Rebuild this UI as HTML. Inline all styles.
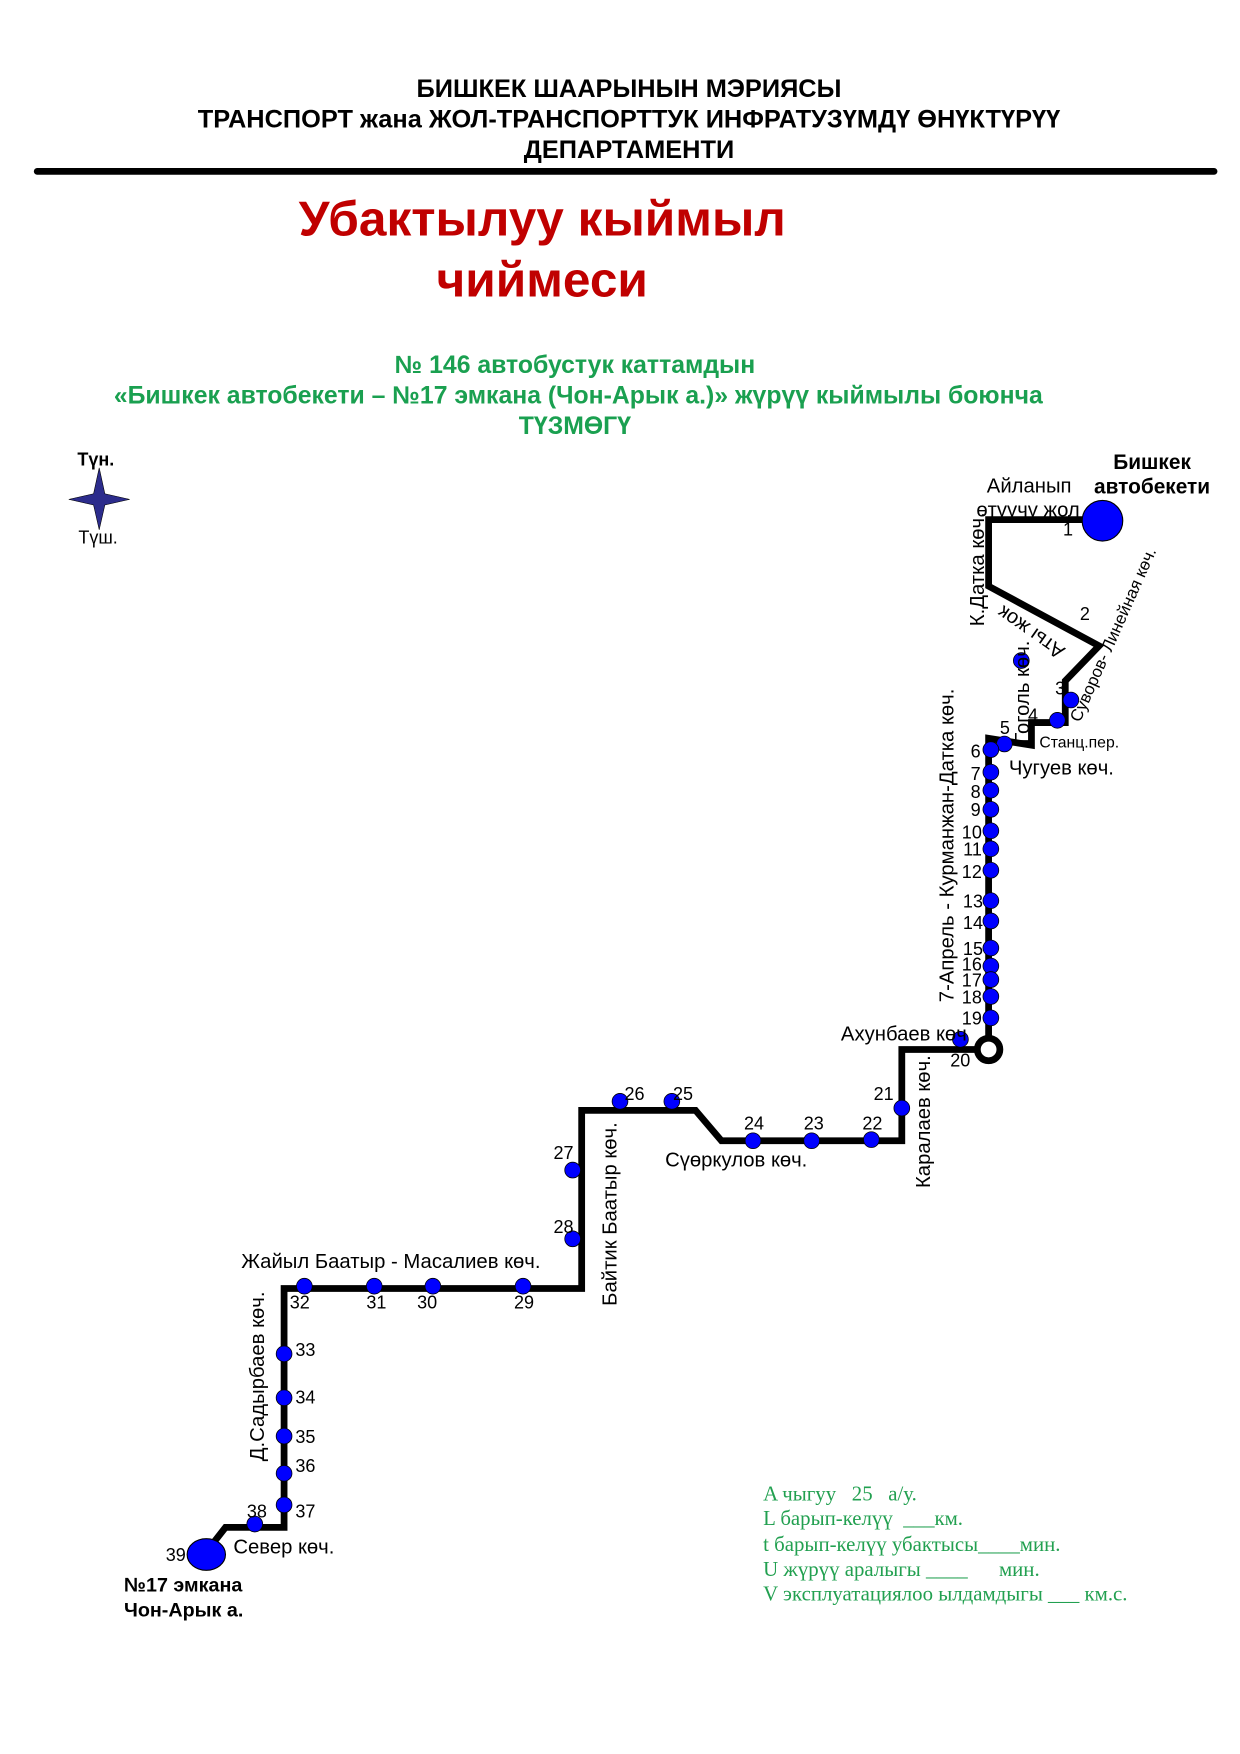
<!DOCTYPE html>
<html><head><meta charset="utf-8"><style>
html,body{margin:0;padding:0;background:#fff}
svg{display:block}
text{font-family:"Liberation Sans",sans-serif}
.n{font-size:16px;fill:#000}
.s{font-size:18px;fill:#000}
.g{font-family:"Liberation Serif",serif;font-size:18.5px;fill:#22a050}
</style></head><body>
<svg width="1240" height="1754" viewBox="0 0 1100 1556" xmlns="http://www.w3.org/2000/svg">
<g font-weight="bold" font-size="22.5" text-anchor="middle">
<text x="558" y="86">БИШКЕК ШААРЫНЫН МЭРИЯСЫ</text>
<text x="558" y="113">ТРАНСПОРТ жана ЖОЛ-ТРАНСПОРТТУК ИНФРАТУЗҮМДҮ ӨНҮКТҮРҮҮ</text>
<text x="558" y="140">ДЕПАРТАМЕНТИ</text>
</g>
<line x1="33" y1="152" x2="1077" y2="152" stroke="#000" stroke-width="6" stroke-linecap="round"/>
<g font-weight="bold" font-size="44" fill="#c00000" text-anchor="middle">
<text x="481" y="209">Убактылуу кыймыл</text>
<text x="481" y="263">чиймеси</text>
</g>
<g font-weight="bold" font-size="22" fill="#1aa050" text-anchor="middle">
<text x="510" y="331">№ 146 автобустук каттамдын</text>
<text x="513" y="358">«Бишкек автобекети –  №17 эмкана (Чон-Арык а.)» жүрүү кыймылы боюнча</text>
<text x="510" y="385">ТҮЗМӨГҮ</text>
</g>
<text x="85" y="413" font-weight="bold" font-size="16" text-anchor="middle">Түн.</text>
<polygon points="88,415 93,438 115,443 93,448 88,470 83,448 61,443 83,438" fill="#2c2c8c" stroke="#000" stroke-width="0.5"/>
<text x="87" y="482" font-size="16" text-anchor="middle">Түш.</text>

<g fill="none" stroke="#000" stroke-width="6" stroke-linejoin="miter">
<polyline points="962,461 877,461 877,520 975,573 945,604 945,641 915,641 915,661 877,655 877,930"/>
<polyline points="866,931 800,931 800,1012 640,1012 617,985 516,985 516,1143 252,1143 252,1355 200,1355 182,1378"/>
</g>
<circle cx="877" cy="931" r="10" fill="#fff" stroke="#000" stroke-width="6"/>
<circle cx="978" cy="462" r="18" fill="#0000ff" stroke="#000" stroke-width="1"/>
<ellipse cx="183" cy="1379" rx="17" ry="14" fill="#0000ff" stroke="#000" stroke-width="1"/>
<g fill="#0000ff" stroke="#000" stroke-width="0.7">
<circle cx="950" cy="621" r="7"/><circle cx="938" cy="639" r="7"/><circle cx="891" cy="660" r="7"/><circle cx="906" cy="586" r="7"/>
<circle cx="879" cy="665" r="7"/><circle cx="879" cy="685" r="7"/><circle cx="879" cy="701" r="7"/><circle cx="879" cy="718" r="7"/>
<circle cx="879" cy="737" r="7"/><circle cx="879" cy="753" r="7"/><circle cx="879" cy="772" r="7"/><circle cx="879" cy="799" r="7"/>
<circle cx="879" cy="817" r="7"/><circle cx="879" cy="841" r="7"/><circle cx="879" cy="857" r="7"/><circle cx="879" cy="869" r="7"/>
<circle cx="879" cy="884" r="7"/><circle cx="879" cy="903" r="7"/><circle cx="852" cy="922" r="7"/>
<circle cx="800" cy="983" r="7"/><circle cx="773" cy="1011" r="7"/><circle cx="720" cy="1012" r="7"/><circle cx="668" cy="1012" r="7"/>
<circle cx="596" cy="977" r="7"/><circle cx="550" cy="977" r="7"/><circle cx="508" cy="1038" r="7"/><circle cx="508" cy="1099" r="7"/>
<circle cx="464" cy="1141" r="7"/><circle cx="384" cy="1141" r="7"/><circle cx="332" cy="1141" r="7"/><circle cx="270" cy="1141" r="7"/>
<circle cx="252" cy="1201" r="7"/><circle cx="252" cy="1240" r="7"/><circle cx="252" cy="1274" r="7"/><circle cx="252" cy="1307" r="7"/>
<circle cx="252" cy="1335" r="7"/><circle cx="226" cy="1352" r="7"/>
</g>

<text x="913" y="437" class="s" text-anchor="middle">Айланып</text>
<text x="912" y="458" class="s" text-anchor="middle">өтүүчү жол</text>
<text x="1022" y="416" font-weight="bold" font-size="18.5" text-anchor="middle">Бишкек</text>
<text x="1022" y="438" font-weight="bold" font-size="18.5" text-anchor="middle">автобекети</text>
<text x="943" y="475" class="n">1</text>
<text x="958" y="550" class="n">2</text>
<text transform="translate(873,505) rotate(-90)" class="s" text-anchor="middle">К.Датка көч.</text>
<text transform="translate(918,556) rotate(215)" class="s" text-anchor="middle">Аты жок</text>
<text transform="translate(992,565) rotate(-66)" font-size="15" text-anchor="middle">Суворов- Линейная көч.</text>
<text transform="translate(913,614) rotate(-90)" class="s" text-anchor="middle">Гоголь көч.</text>
<text x="936" y="616" class="n">3</text><text x="912" y="640" class="n">4</text><text x="887" y="651" class="n">5</text>
<text x="922" y="663" font-size="14">Станц.пер.</text>
<text x="895" y="687" class="s">Чугуев көч.</text>
<text transform="translate(846,750) rotate(-90)" class="s" text-anchor="middle">7-Апрель - Курманжан-Датка көч.</text>
<g class="n" text-anchor="end">
<text x="870" y="672">6</text><text x="870" y="692">7</text><text x="870" y="708">8</text><text x="870" y="724">9</text>
<text x="871" y="744">10</text><text x="871" y="759">11</text><text x="871" y="779">12</text><text x="872" y="805">13</text>
<text x="872" y="824">14</text><text x="872" y="847">15</text><text x="871" y="861">16</text><text x="871" y="875">17</text>
<text x="871" y="890">18</text><text x="871" y="909">19</text>
</g>
<text x="746" y="923" class="s">Ахунбаев көч</text>
<text x="843" y="946" class="n">20</text>
<text transform="translate(825,995) rotate(-90)" class="s" text-anchor="middle">Каралаев көч.</text>
<text x="775" y="976" class="n">21</text><text x="765" y="1002" class="n">22</text><text x="713" y="1002" class="n">23</text>
<text x="660" y="1002" class="n">24</text><text x="597" y="976" class="n">25</text><text x="554" y="976" class="n">26</text>
<text x="590" y="1035" class="s">Сүөркулов көч.</text>
<text x="491" y="1028" class="n">27</text><text x="491" y="1094" class="n">28</text>
<text transform="translate(547,1077) rotate(-90)" class="s" text-anchor="middle">Байтик Баатыр көч.</text>
<text x="214" y="1125" class="s">Жайыл Баатыр  - Масалиев көч.</text>
<text x="456" y="1161" class="n">29</text><text x="370" y="1161" class="n">30</text><text x="325" y="1161" class="n">31</text><text x="257" y="1161" class="n">32</text>
<text transform="translate(234,1221) rotate(-90)" class="s" text-anchor="middle">Д.Садырбаев көч.</text>
<text x="262" y="1203" class="n">33</text><text x="262" y="1245" class="n">34</text><text x="262" y="1280" class="n">35</text>
<text x="262" y="1306" class="n">36</text><text x="262" y="1346" class="n">37</text><text x="219" y="1346" class="n">38</text>
<text x="207" y="1378" class="s">Север көч.</text>
<text x="147" y="1385" class="n">39</text>
<text x="110" y="1412" font-weight="bold" font-size="17.5">№17 эмкана</text>
<text x="110" y="1434" font-weight="bold" font-size="17.5">Чон-Арык а.</text>

<text x="677" y="1331" class="g" xml:space="preserve">A чыгуу   25   а/у.</text>
<text x="677" y="1353" class="g" xml:space="preserve">L барып-келүү  ___км.</text>
<text x="677" y="1376" class="g">t барып-келүү убактысы____мин.</text>
<text x="677" y="1398" class="g" xml:space="preserve">U жүрүү аралыгы ____      мин.</text>
<text x="677" y="1420" class="g">V эксплуатациялоо ылдамдыгы ___ км.с.</text>
</svg>
</body></html>
